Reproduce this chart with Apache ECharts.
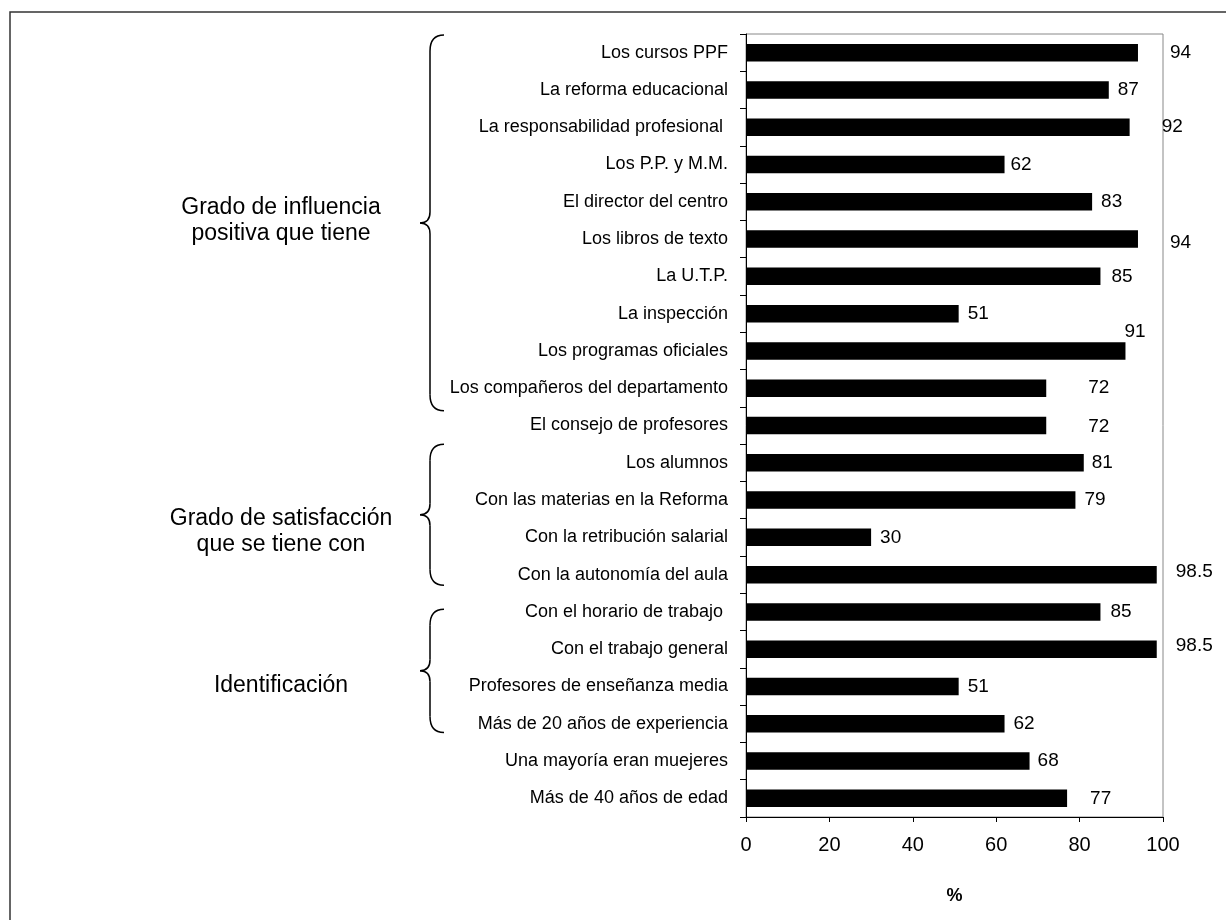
<!DOCTYPE html>
<html>
<head>
<meta charset="utf-8">
<script src="https://cdn.jsdelivr.net/npm/echarts@6/dist/echarts.min.js"></script>
<style>
  html, body { margin: 0; padding: 0; background: #fff; }
  #chart { width: 1226px; height: 920px; }
</style>
</head>
<body>
<div id="chart"></div>
<script>
// Survey items, top to bottom
const categories = [
  'Los cursos PPF',
  'La reforma educacional',
  'La responsabilidad profesional ',
  'Los P.P. y M.M.',
  'El director del centro',
  'Los libros de texto',
  'La U.T.P.',
  'La inspección',
  'Los programas oficiales',
  'Los compañeros del departamento',
  'El consejo de profesores',
  'Los alumnos',
  'Con las materias en la Reforma',
  'Con la retribución salarial',
  'Con la autonomía del aula',
  'Con el horario de trabajo ',
  'Con el trabajo general',
  'Profesores de enseñanza media',
  'Más de 20 años de experiencia',
  'Una mayoría eran muejeres',
  'Más de 40 años de edad'
];

// Percentage for each item
const values = [94, 87, 92, 62, 83, 94, 85, 51, 91, 72, 72, 81, 79, 30, 98.5, 85, 98.5, 51, 62, 68, 77];

// Value-axis tick labels
const xTicks = [0, 20, 40, 60, 80, 100];

// Hand-placed value labels: shift from the bar end (px)
const labelDx = [32, 9, 32, 6, 9, 32, 11, 9, -1, 42, 42, 8, 9, 9, 19, 10, 19, 9, 9, 8, 23];
const labelDy = [0, 0, 0, 0, 0, 4, 0, 0, -19, 0, 1, 0, 0, 0, -3, 0, -3, 0, 0, 0, 0];

// Bracketed groups of items
const groupNames = ['Grado de influencia\npositiva que tiene', 'Grado de satisfacción\nque se tiene con', 'Identificación'];
const groupFirst = [0, 11, 15];
const groupLast = [9, 14, 18];
// brace trimming at its top / bottom ends (px)
const groupInsetTop = [1, 0, 16];
const groupInsetBottom = [-4, 8, 10];
// caption shift from the brace tip (px)
const groupTextDy = [-2, 17, 15];

const FONT = "'Liberation Sans', Arial, sans-serif";

const chart = echarts.init(document.getElementById('chart'), null, { renderer: 'canvas' });

const option = {
  backgroundColor: '#fff',
  animation: false,
  grid: {
    left: 746, right: 63, top: 34, bottom: 103,
    show: true, borderColor: '#888', borderWidth: 1, backgroundColor: 'transparent'
  },
  xAxis: {
    type: 'value', min: 0, max: 100, interval: 20,
    name: '%', nameLocation: 'middle', nameGap: 70,
    nameTextStyle: { fontFamily: FONT, fontSize: 18, fontWeight: 'bold', color: '#000' },
    axisLine: { show: true, lineStyle: { color: '#000', width: 1 } },
    axisTick: { show: true, length: 5, lineStyle: { color: '#000' } },
    axisLabel: {
      fontFamily: FONT, fontSize: 20, color: '#000', margin: 18,
      formatter: v => (xTicks.indexOf(v) >= 0 ? String(v) : '')
    },
    splitLine: { show: false }
  },
  yAxis: {
    type: 'category', data: categories, inverse: true,
    axisLine: { show: true, lineStyle: { color: '#000', width: 1 } },
    axisTick: { show: true, length: 6, lineStyle: { color: '#000' } },
    axisLabel: { fontFamily: FONT, fontSize: 18, color: '#000', margin: 18 },
    splitLine: { show: false }
  },
  series: [{
    type: 'bar',
    data: values.map((v, i) => ({
      value: v,
      label: { offset: [labelDx[i], labelDy[i]] }
    })),
    barWidth: '47%',
    itemStyle: { color: '#000' },
    label: {
      show: true, position: 'right', distance: 0,
      fontFamily: FONT, fontSize: 19, color: '#000',
      formatter: p => String(p.value)
    }
  }]
};

chart.setOption(option);

// Curly brace built from curve and line pieces
function braceParts(x, top, bottom) {
  const mid = (top + bottom) / 2;
  const c = 14, r = 16, t = 11, tip = 10;
  const st = { fill: 'none', stroke: '#000', lineWidth: 1.5 };
  return [
    { type: 'bezierCurve', silent: true, style: st,
      shape: { x1: x + c, y1: top, cpx1: x, cpy1: top, x2: x, y2: top + r } },
    { type: 'line', silent: true, style: st,
      shape: { x1: x, y1: top + r, x2: x, y2: mid - t } },
    { type: 'bezierCurve', silent: true, style: st,
      shape: { x1: x, y1: mid - t, cpx1: x, cpy1: mid, x2: x - tip, y2: mid } },
    { type: 'bezierCurve', silent: true, style: st,
      shape: { x1: x - tip, y1: mid, cpx1: x, cpy1: mid, x2: x, y2: mid + t } },
    { type: 'line', silent: true, style: st,
      shape: { x1: x, y1: mid + t, x2: x, y2: bottom - r } },
    { type: 'bezierCurve', silent: true, style: st,
      shape: { x1: x, y1: bottom - r, cpx1: x, cpy1: bottom, x2: x + c, y2: bottom } }
  ];
}

const c0 = chart.convertToPixel({ yAxisIndex: 0 }, categories[0]);
const c1 = chart.convertToPixel({ yAxisIndex: 0 }, categories[1]);
const step = c1 - c0;

const graphics = [{
  type: 'rect', silent: true,
  shape: { x: 10, y: 12, width: 1240, height: 940 },
  style: { fill: 'none', stroke: '#333', lineWidth: 1.5 }
}];

groupNames.forEach((name, g) => {
  const top = chart.convertToPixel({ yAxisIndex: 0 }, categories[groupFirst[g]]) - step / 2 + groupInsetTop[g];
  const bottom = chart.convertToPixel({ yAxisIndex: 0 }, categories[groupLast[g]]) + step / 2 - groupInsetBottom[g];
  const mid = (top + bottom) / 2;
  braceParts(430, top, bottom).forEach(p => graphics.push(p));
  graphics.push({
    type: 'text', silent: true,
    x: 281, y: mid + groupTextDy[g],
    style: {
      text: name, font: '23px ' + FONT, fill: '#000',
      textAlign: 'center', textVerticalAlign: 'middle', lineHeight: 26
    }
  });
});

chart.setOption({ graphic: graphics });
</script>
</body>
</html>
